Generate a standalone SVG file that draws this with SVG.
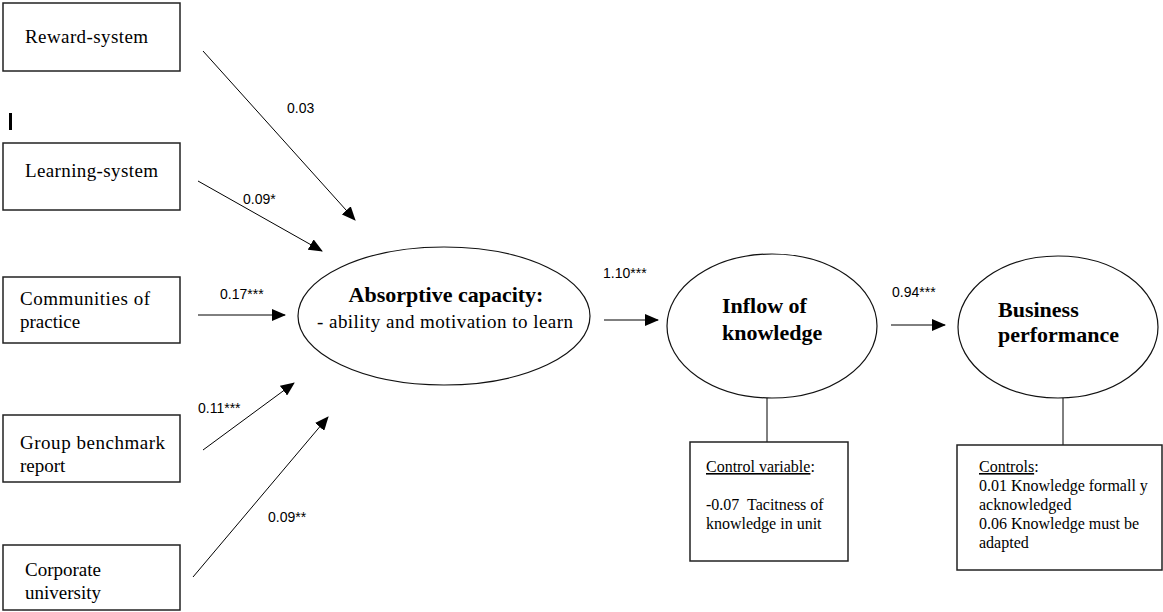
<svg xmlns="http://www.w3.org/2000/svg" width="1163" height="612" viewBox="0 0 1163 612">
<style>
.box{fill:#fff;stroke:#222;stroke-width:1.5}
.ell{fill:#fff;stroke:#111;stroke-width:1.2}
.t{font-family:"Liberation Serif","Times New Roman",serif;font-size:19px;fill:#000}
.b{font-family:"Liberation Serif","Times New Roman",serif;font-size:22px;font-weight:bold;fill:#000}
.s{font-family:"Liberation Serif","Times New Roman",serif;font-size:16px;fill:#000}
.n{font-family:"Liberation Sans",Arial,sans-serif;font-size:14px;fill:#000}
.c{stroke:#000;stroke-width:1;fill:none}
.a{marker-end:url(#ah)}
</style>
<defs>
<marker id="ah" viewBox="0 0 14 12" refX="13" refY="6" markerWidth="14" markerHeight="12" markerUnits="userSpaceOnUse" orient="auto">
<path d="M0,0 L14,6 L0,12 Z" fill="#000"/>
</marker>
</defs>
<rect fill="#fff" width="1163" height="612"/>
<g id="connectors">
<line class="c a" x1="203" y1="51" x2="355" y2="220"/>
<line class="c a" x1="198" y1="181" x2="322" y2="251"/>
<line class="c a" x1="198" y1="315" x2="285" y2="315"/>
<line class="c a" x1="203" y1="450" x2="294" y2="383"/>
<line class="c a" x1="193" y1="577" x2="328" y2="417"/>
<line class="c a" x1="604" y1="320" x2="658" y2="320"/>
<line class="c a" x1="891" y1="325" x2="945" y2="325"/>
<line class="c" x1="767" y1="398" x2="767" y2="442" stroke-width="1.5"/>
<line class="c" x1="1063" y1="398" x2="1063" y2="445" stroke-width="1.5"/>
<text class="n" x="287" y="113">0.03</text>
<text class="n" x="243" y="204">0.09*</text>
<text class="n" x="220" y="299">0.17***</text>
<text class="n" x="198" y="413">0.11***</text>
<text class="n" x="268" y="522">0.09**</text>
<text class="n" x="603" y="278">1.10***</text>
<text class="n" x="892" y="297">0.94***</text>
</g>
<rect x="9" y="113" width="3" height="17" fill="#000"/>
<g id="reward">
<rect class="box" x="3" y="3" width="177" height="68"/>
<text class="t" x="25" y="43" textLength="123">Reward-system</text>
</g>
<g id="learning">
<rect class="box" x="3" y="143" width="177" height="67"/>
<text class="t" x="25" y="177" textLength="133">Learning-system</text>
</g>
<g id="communities">
<rect class="box" x="3" y="277" width="177" height="66"/>
<text class="t" x="20" y="305" textLength="130">Communities of</text>
<text class="t" x="20" y="328">practice</text>
</g>
<g id="benchmark">
<rect class="box" x="3" y="415" width="177" height="67"/>
<text class="t" x="20" y="449" textLength="145">Group benchmark</text>
<text class="t" x="20" y="472">report</text>
</g>
<g id="university">
<rect class="box" x="3" y="545" width="177" height="65"/>
<text class="t" x="25" y="576">Corporate</text>
<text class="t" x="25" y="599">university</text>
</g>
<g id="absorptive">
<ellipse class="ell" cx="444" cy="316" rx="146" ry="69"/>
<text class="b" x="446" y="302" text-anchor="middle">Absorptive capacity:</text>
<text class="t" x="317" y="328" textLength="256">- ability and motivation to learn</text>
</g>
<g id="inflow">
<ellipse class="ell" cx="772" cy="326" rx="105" ry="72"/>
<text class="b" x="722" y="313">Inflow of</text>
<text class="b" x="722" y="340">knowledge</text>
</g>
<g id="business">
<ellipse class="ell" cx="1058" cy="327" rx="100" ry="71"/>
<text class="b" x="998" y="317">Business</text>
<text class="b" x="998" y="342">performance</text>
</g>
<g id="control">
<rect class="box" x="690" y="442" width="158" height="119"/>
<text class="s" x="706" y="472"><tspan text-decoration="underline">Control variable</tspan>:</text>
<text class="s" x="706" y="510">-0.07&#160; Tacitness of</text>
<text class="s" x="706" y="529">knowledge in unit</text>
</g>
<g id="controls">
<rect class="box" x="957" y="445" width="205" height="125"/>
<text class="s" x="979" y="472"><tspan text-decoration="underline">Controls</tspan>:</text>
<text class="s" x="979" y="491">0.01 Knowledge formall y</text>
<text class="s" x="979" y="510">acknowledged</text>
<text class="s" x="979" y="529">0.06 Knowledge must be</text>
<text class="s" x="979" y="548">adapted</text>
</g>
</svg>
